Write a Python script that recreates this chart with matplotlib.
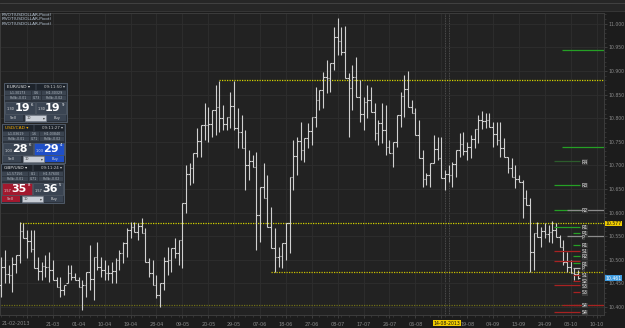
import matplotlib.pyplot as plt
from matplotlib.patches import Rectangle
from matplotlib.ticker import MultipleLocator, FixedLocator

# daily OHLC bars (USD index)
opens = [10.447, 10.485, 10.470, 10.468, 10.491, 10.510, 10.561, 10.546, 10.540, 10.523,
         10.483, 10.476, 10.487, 10.485, 10.478, 10.457, 10.442, 10.436, 10.451, 10.472,
         10.464, 10.457, 10.442, 10.447, 10.474, 10.459, 10.506, 10.485, 10.478, 10.472,
         10.472, 10.476, 10.500, 10.514, 10.536, 10.563, 10.570, 10.559, 10.572, 10.557,
         10.495, 10.472, 10.447, 10.425, 10.451, 10.497, 10.500, 10.525, 10.514, 10.542,
         10.620, 10.682, 10.695, 10.726, 10.752, 10.786, 10.786, 10.788, 10.818, 10.824,
         10.801, 10.788, 10.803, 10.826, 10.779, 10.771, 10.737, 10.701, 10.709, 10.697,
         10.595, 10.654, 10.631, 10.570, 10.525, 10.506, 10.508, 10.536, 10.578, 10.676,
         10.720, 10.752, 10.733, 10.758, 10.773, 10.803, 10.839, 10.860, 10.888, 10.885,
         10.917, 10.972, 10.964, 10.941, 10.885, 10.864, 10.888, 10.845, 10.809, 10.835,
         10.839, 10.813, 10.769, 10.790, 10.775, 10.739, 10.726, 10.750, 10.807, 10.847,
         10.862, 10.824, 10.811, 10.765, 10.716, 10.671, 10.680, 10.705, 10.735, 10.716,
         10.673, 10.682, 10.680, 10.703, 10.733, 10.745, 10.731, 10.739, 10.756, 10.777,
         10.796, 10.794, 10.796, 10.782, 10.767, 10.754, 10.737, 10.718, 10.695, 10.676,
         10.671, 10.665, 10.631, 10.616, 10.517, 10.557, 10.548, 10.561, 10.555, 10.559,
         10.563, 10.548, 10.527, 10.495, 10.485, 10.472, 10.470]
highs = [10.506, 10.521, 10.489, 10.506, 10.510, 10.580, 10.578, 10.563, 10.563, 10.563,
         10.506, 10.495, 10.510, 10.517, 10.500, 10.464, 10.464, 10.447, 10.489, 10.489,
         10.472, 10.464, 10.457, 10.474, 10.531, 10.506, 10.538, 10.506, 10.500, 10.489,
         10.495, 10.504, 10.521, 10.538, 10.567, 10.580, 10.580, 10.578, 10.589, 10.567,
         10.504, 10.500, 10.468, 10.451, 10.506, 10.527, 10.525, 10.546, 10.542, 10.620,
         10.701, 10.705, 10.726, 10.779, 10.786, 10.832, 10.824, 10.818, 10.871, 10.879,
         10.828, 10.803, 10.856, 10.879, 10.822, 10.807, 10.775, 10.733, 10.722, 10.729,
         10.654, 10.705, 10.680, 10.612, 10.567, 10.527, 10.536, 10.578, 10.676, 10.754,
         10.760, 10.792, 10.758, 10.790, 10.803, 10.866, 10.860, 10.898, 10.924, 10.917,
         10.994, 11.013, 10.994, 10.996, 10.896, 10.913, 10.930, 10.881, 10.845, 10.871,
         10.866, 10.832, 10.796, 10.832, 10.828, 10.754, 10.750, 10.807, 10.856, 10.892,
         10.900, 10.839, 10.822, 10.796, 10.733, 10.684, 10.705, 10.765, 10.760, 10.760,
         10.690, 10.701, 10.707, 10.733, 10.769, 10.771, 10.750, 10.765, 10.777, 10.807,
         10.815, 10.811, 10.811, 10.792, 10.792, 10.792, 10.758, 10.718, 10.716, 10.701,
         10.680, 10.669, 10.648, 10.631, 10.557, 10.580, 10.570, 10.578, 10.574, 10.582,
         10.578, 10.553, 10.542, 10.517, 10.500, 10.483, 10.478]
lows = [10.421, 10.451, 10.451, 10.432, 10.472, 10.493, 10.546, 10.504, 10.517, 10.483,
        10.457, 10.457, 10.464, 10.453, 10.457, 10.442, 10.421, 10.425, 10.451, 10.457,
        10.457, 10.442, 10.394, 10.421, 10.436, 10.415, 10.478, 10.464, 10.457, 10.457,
        10.451, 10.451, 10.478, 10.493, 10.506, 10.546, 10.559, 10.542, 10.557, 10.495,
        10.464, 10.447, 10.419, 10.400, 10.436, 10.468, 10.474, 10.504, 10.489, 10.483,
        10.599, 10.659, 10.663, 10.718, 10.718, 10.754, 10.750, 10.760, 10.765, 10.771,
        10.775, 10.775, 10.779, 10.775, 10.737, 10.737, 10.648, 10.669, 10.697, 10.521,
        10.538, 10.631, 10.570, 10.525, 10.474, 10.485, 10.483, 10.500, 10.514, 10.648,
        10.680, 10.712, 10.707, 10.737, 10.743, 10.782, 10.818, 10.822, 10.854, 10.856,
        10.902, 10.934, 10.934, 10.885, 10.760, 10.818, 10.845, 10.792, 10.775, 10.801,
        10.813, 10.754, 10.743, 10.748, 10.722, 10.726, 10.697, 10.739, 10.782, 10.803,
        10.824, 10.811, 10.765, 10.716, 10.654, 10.659, 10.654, 10.705, 10.712, 10.673,
        10.648, 10.665, 10.654, 10.676, 10.718, 10.722, 10.712, 10.716, 10.737, 10.748,
        10.777, 10.779, 10.782, 10.739, 10.743, 10.718, 10.718, 10.684, 10.676, 10.652,
        10.665, 10.589, 10.616, 10.474, 10.478, 10.548, 10.527, 10.546, 10.538, 10.536,
        10.548, 10.527, 10.489, 10.474, 10.472, 10.457, 10.459]
closes = [10.485, 10.470, 10.468, 10.491, 10.510, 10.561, 10.546, 10.540, 10.523, 10.483,
          10.476, 10.487, 10.485, 10.478, 10.457, 10.442, 10.436, 10.447, 10.472, 10.464,
          10.457, 10.442, 10.447, 10.474, 10.459, 10.506, 10.485, 10.478, 10.472, 10.472,
          10.476, 10.500, 10.514, 10.536, 10.563, 10.570, 10.559, 10.572, 10.557, 10.495,
          10.472, 10.447, 10.425, 10.451, 10.497, 10.500, 10.525, 10.514, 10.542, 10.620,
          10.682, 10.695, 10.726, 10.752, 10.786, 10.786, 10.788, 10.818, 10.824, 10.801,
          10.788, 10.803, 10.826, 10.779, 10.771, 10.737, 10.701, 10.709, 10.697, 10.595,
          10.654, 10.631, 10.570, 10.525, 10.506, 10.508, 10.536, 10.578, 10.676, 10.720,
          10.752, 10.733, 10.758, 10.773, 10.803, 10.839, 10.860, 10.888, 10.885, 10.917,
          10.972, 10.964, 10.941, 10.885, 10.864, 10.888, 10.845, 10.809, 10.835, 10.839,
          10.813, 10.769, 10.790, 10.775, 10.739, 10.726, 10.750, 10.807, 10.847, 10.862,
          10.824, 10.811, 10.765, 10.716, 10.671, 10.680, 10.705, 10.735, 10.716, 10.673,
          10.682, 10.680, 10.703, 10.733, 10.745, 10.731, 10.739, 10.756, 10.777, 10.796,
          10.794, 10.796, 10.782, 10.767, 10.754, 10.737, 10.718, 10.695, 10.676, 10.671,
          10.665, 10.631, 10.616, 10.517, 10.557, 10.548, 10.561, 10.555, 10.559, 10.563,
          10.548, 10.527, 10.495, 10.485, 10.472, 10.470, 10.461]

tick_pos = list(range(7, 162, 7))
tick_labels = ["", "21-03", "01-04", "10-04", "19-04", "28-04", "09-05", "20-05", "29-05",
               "07-06", "18-06", "27-06", "08-07", "17-07", "26-07", "06-08", "", "19-08",
               "04-09", "13-09", "24-09", "03-10", "10-10"]

# support / resistance lines (price, first bar)
sr_levels = [10.881, 10.577, 10.474, 10.404]
sr_start = [59, 5, 73, 0]
sr_colors = ["#d2d200", "#d2d200", "#c8c000", "#707018"]

# pivot indicator levels at the right
pivot_levels = [10.945, 10.739, 10.709, 10.659, 10.606, 10.606, 10.570, 10.557, 10.550,
                10.532, 10.519, 10.508, 10.498, 10.493, 10.483, 10.468, 10.455, 10.446,
                10.432, 10.405, 10.405, 10.390]
pivot_names = ["", "", "R4", "R3", "R2", "", "R1", "R1", "P", "R1", "S1", "R2", "", "R1",
               "P", "S1", "S2", "S3", "S3", "", "S4", "S4"]
pivot_kind = ["long", "long", "mid", "mid", "mid", "gray", "mid", "short", "gray", "short",
              "mid", "short", "mid", "short", "short", "short", "short", "mid", "short",
              "long", "short", "mid"]

BG = "#1c1c1c"
fig = plt.figure(figsize=(6.25, 3.28), dpi=100, facecolor=BG)
ax = fig.add_axes([0, 1 - 315 / 328, 604 / 625, 302 / 328])
ax.set_facecolor("#222222")

x = range(len(highs))
bar_col = "#d0d0d0"
ax.vlines(x, lows, highs, color=bar_col, lw=0.8, zorder=3)
ax.hlines(opens, [i - 0.45 for i in x], list(x), color=bar_col, lw=0.8, zorder=3)
ax.hlines(closes, list(x), [i + 0.45 for i in x], color=bar_col, lw=0.8, zorder=3)

ax.set_xlim(-0.3, 163)
ax.set_ylim(10.383, 11.023)

for lvl, st, c in zip(sr_levels, sr_start, sr_colors):
    ax.hlines(lvl, st, 163, color=c, lw=0.9, linestyles=(0, (1, 1)), zorder=2)

spans = {"long": (151.6, 163), "mid": (149.5, 156.5), "short": (154.6, 156.5), "gray": (153, 163)}
for lvl, name, kind in zip(pivot_levels, pivot_names, pivot_kind):
    x0, x1 = spans[kind]
    if kind == "gray":
        c = "#8c8c8c"
    elif name.startswith("S") or (name == "" and lvl < 10.51):
        c = "#a82222"
    elif name == "P":
        c = "#bbbbbb"
    elif name == "R4":
        c = "#2c5c2c"
    else:
        c = "#25a025"
    ax.hlines(lvl, x0, x1, color=c, lw=0.9, zorder=4)
    if name:
        ax.text(157.0, lvl - 0.002, name, color="#e0e0e0", fontsize=3.4, va="center",
                ha="left", zorder=5,
                bbox=dict(fc="#3a3a3a", ec="none", pad=0.2))

# crosshair
for xv in (120, 121.1):
    ax.axvline(xv, color="#5a5a5a", lw=0.6, ls=(0, (1, 1)), zorder=1)

ax.yaxis.tick_right()
ax.yaxis.set_major_locator(MultipleLocator(0.05))
ax.yaxis.set_minor_locator(MultipleLocator(0.01))
ax.yaxis.set_major_formatter(plt.FuncFormatter(lambda v, p: f"{v:.3f}"))
ax.xaxis.set_major_locator(FixedLocator(tick_pos))
ax.set_xticklabels(tick_labels)
ax.xaxis.set_minor_locator(MultipleLocator(2))
ax.tick_params(colors="#4a4a4a", labelcolor="#8a8a8a", labelsize=3.5, length=2.5, width=0.5, pad=2.5)
ax.tick_params(axis="y", pad=1, length=2, labelsize=3.3)
ax.tick_params(which="minor", colors="#444444", length=1.5, width=0.4)
ax.grid(True, which="major", color="#2e2e2e", lw=0.6, zorder=0)
for s in ax.spines.values():
    s.set_color("#3c3c3c")
    s.set_linewidth(0.7)

ax.text(0.2, -0.027, "21-02-2013", transform=ax.get_xaxis_transform(), ha="left",
        va="center", fontsize=3.5, color="#8a8a8a")
ax.text(120.5, -0.027, "14-08-2013", transform=ax.get_xaxis_transform(), ha="center",
        va="center", fontsize=3.3, color="#111111",
        bbox=dict(fc="#f0cc00", ec="none", pad=0.4))
ax.text(1.002, 10.577, "10.577", transform=ax.get_yaxis_transform(), ha="left", va="center",
        fontsize=3.3, color="#111111", bbox=dict(fc="#f0cc00", ec="none", pad=0.3))
ax.text(1.002, 10.461, "10.461", transform=ax.get_yaxis_transform(), ha="left", va="center",
        fontsize=3.3, color="#ffffff", bbox=dict(fc="#3d9be0", ec="none", pad=0.3))

# overlay in pixel coordinates for the platform widgets
ov = fig.add_axes([0, 0, 1, 1])
ov.set_xlim(0, 625)
ov.set_ylim(328, 0)
ov.axis("off")
ov.patch.set_alpha(0)

ov.add_patch(Rectangle((0, 0), 625, 11, fc="#262626", ec="none"))
ov.plot([0, 625], [3, 3], color="#464646", lw=0.6)
ov.plot([0, 625], [10.5, 10.5], color="#3a3a3a", lw=0.6)
for k in range(3):
    ov.text(2, 14.5 + 4.6 * k, "PIVOT(USDOLLAR,Pivot)", fontsize=3.1, color="#b9c8d8",
            va="center")


def panel(px, py, pair, pair_col, clock, row1, row2, sell, buy, sell_bg, buy_bg):
    w, h = 63, 39
    ov.add_patch(Rectangle((px, py), w, h, fc="#2c333d", ec="#566170", lw=0.6))
    ov.add_patch(Rectangle((px + 1, py + 1), 30, 6, fc="#1d232b", ec="none"))
    ov.text(px + 3, py + 4, pair + " \u25be", color=pair_col, fontsize=3.2, va="center")
    ov.add_patch(Rectangle((px + 33, py + 1), 29, 6, fc="#1d232b", ec="none"))
    ov.text(px + 61, py + 4, clock + " \u25be", color="#c8c8c8", fontsize=2.9,
            va="center", ha="right")
    for r, row in enumerate((row1, row2)):
        yy = py + 8 + 5 * r
        cells = [(px + 1, 26), (px + 28, 9), (px + 38, 24)]
        for (cx, cw), t in zip(cells, row):
            ov.add_patch(Rectangle((cx, yy), cw, 4.3, fc="#3b4450", ec="none"))
            ov.text(cx + cw / 2, yy + 2.2, t, fontsize=2.3, color="#b0b8c0",
                    ha="center", va="center")
    for (bx, q, bg) in ((px + 1, sell, sell_bg), (px + 32, buy, buy_bg)):
        ov.add_patch(Rectangle((bx, py + 18.5), 30, 12.5, fc=bg, ec="#5a6470", lw=0.4))
        ov.text(bx + 2, py + 26.5, q[0], fontsize=2.5, color="#e0e0e0", va="center")
        ov.text(bx + 17, py + 25, q[1], fontsize=8, color="#ffffff", va="center",
                ha="center", fontweight="bold")
        ov.text(bx + 26, py + 21.5, q[2], fontsize=2.8, color="#ffffff", va="center")
    ov.add_patch(Rectangle((px + 1, py + 31.5), 18, 6.5, fc=sell_bg, ec="none"))
    ov.text(px + 9, py + 34.8, "Sell", fontsize=2.6, color="#d8d8d8", ha="center", va="center")
    ov.add_patch(Rectangle((px + 21, py + 32), 21, 5.5, fc="#c9ced6", ec="#7a8290", lw=0.4))
    ov.text(px + 23, py + 34.8, "10", fontsize=2.5, color="#333333", va="center")
    ov.text(px + 41, py + 34.8, "\u25be", fontsize=2.6, color="#333333", va="center", ha="right")
    ov.add_patch(Rectangle((px + 43, py + 31.5), 19, 6.5, fc=buy_bg, ec="none"))
    ov.text(px + 53, py + 34.8, "Buy", fontsize=2.6, color="#d8d8d8", ha="center", va="center")


panel(4, 83, "EUR/USD", "#e6e6e6", "09:11:50", ("L:1.30173", "0.6", "H:1.30329"),
      ("Rollb:-0.01", "0.73", "Rollb:-0.02"), ("1.30", "19", "6"), ("1.30", "19", "9"),
      "#3a4452", "#3a4452")
panel(2, 124, "USD/CAD", "#f2a900", "09:11:27", ("L:1.03619", "1.6", "H:1.03840"),
      ("Rollb:-0.01", "0.71", "Rollb:-0.02"), ("1.03", "28", "6"), ("1.03", "29", "4"),
      "#3a4452", "#1f4fc8")
panel(1, 164, "GBP/USD", "#e6e6e6", "09:11:24", ("L:1.57156", "8.1", "H:1.57600"),
      ("Rollb:-0.01", "0.71", "Rollb:-0.02"), ("1.57", "35", "8"), ("1.57", "36", "5"),
      "#a3182e", "#3a4452")

fig.savefig("out.png", dpi=100, facecolor=BG)
